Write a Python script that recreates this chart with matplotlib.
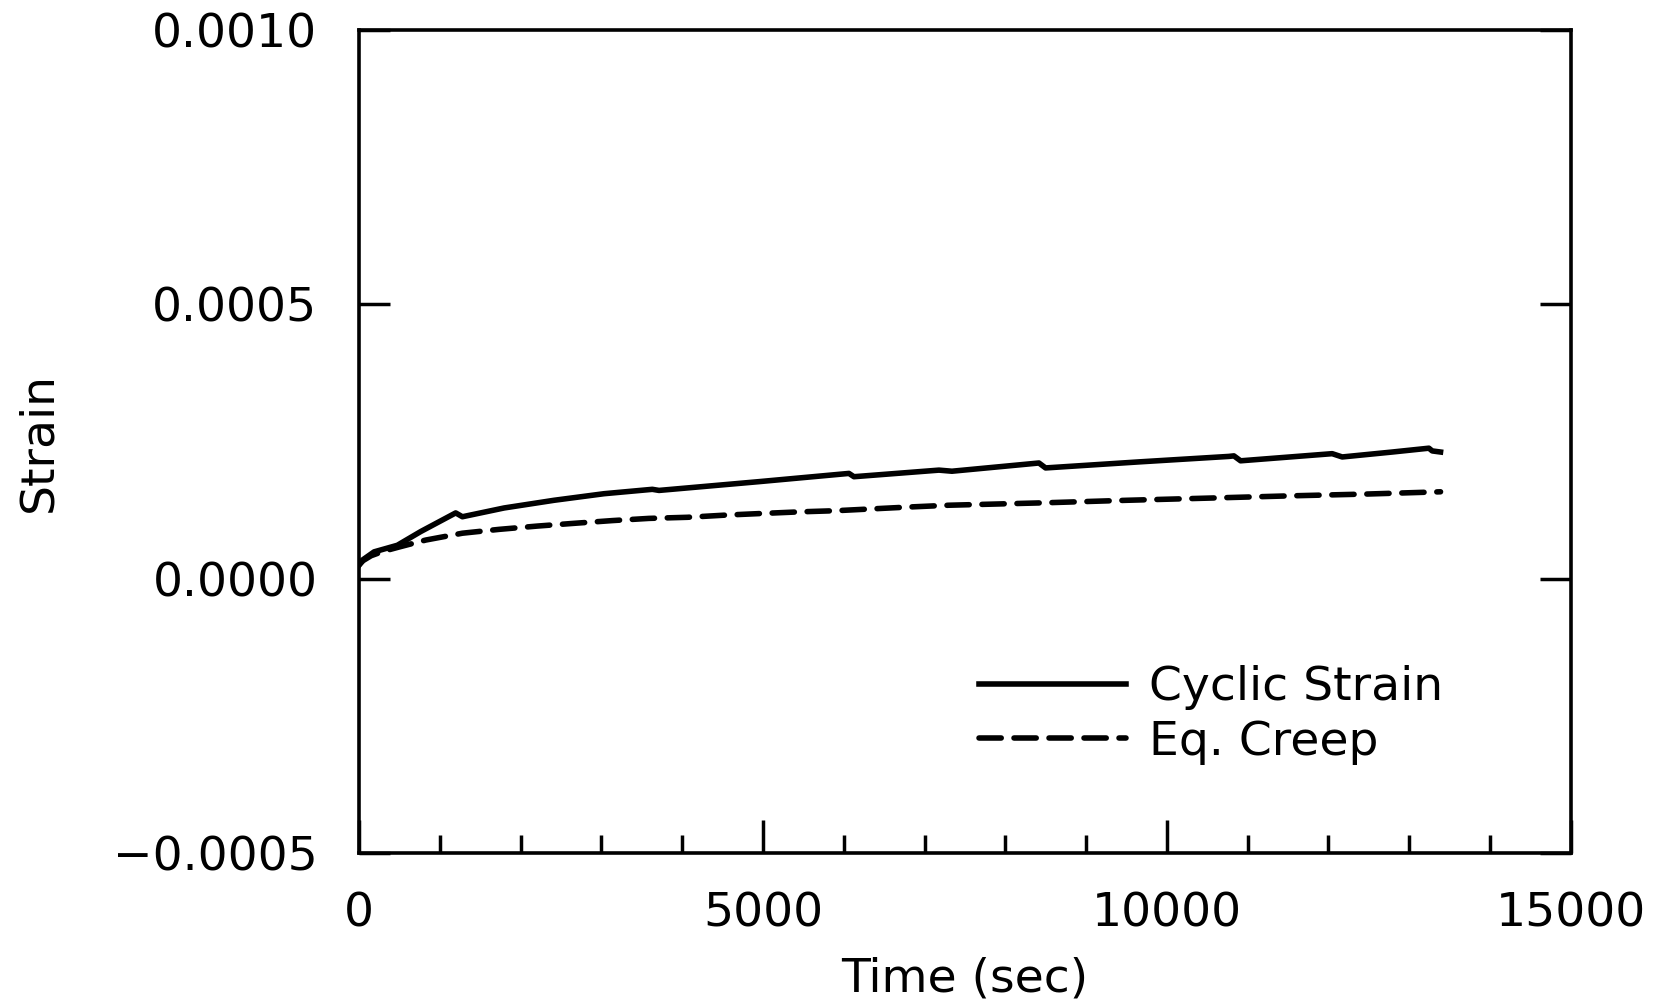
import matplotlib
matplotlib.use("Agg")
import matplotlib.pyplot as plt
from matplotlib.ticker import MultipleLocator

# ---- data ----
time_cyclic = [0, 41, 186, 474, 763, 1196, 1279, 1795, 2413, 3032, 3630, 3713,
               4950, 6064, 6126, 7178, 7339, 8416, 8498, 9653, 10767, 10829,
               10912, 12046, 12170, 12789, 13243, 13284, 13387]
strain_cyclic = [2.5e-5, 3.4e-5, 4.9e-5, 6.1e-5, 8.6e-5, 1.20e-4, 1.13e-4,
                 1.29e-4, 1.43e-4, 1.55e-4, 1.63e-4, 1.61e-4, 1.77e-4, 1.92e-4,
                 1.86e-4, 1.98e-4, 1.96e-4, 2.11e-4, 2.02e-4, 2.13e-4, 2.23e-4,
                 2.24e-4, 2.15e-4, 2.28e-4, 2.22e-4, 2.31e-4, 2.38e-4, 2.33e-4,
                 2.31e-4]

time_eq = [0, 50, 150, 300, 500, 825, 1279, 1733, 2207, 2661, 3135, 3589, 4063,
           4538, 4991, 5466, 5899, 6844, 7302, 8500, 9500, 10520, 11500, 12500,
           13387]
strain_eq = [2.5e-5, 3.3e-5, 4.2e-5, 5.0e-5, 5.8e-5, 7.05e-5, 8.3e-5, 9.0e-5,
             9.6e-5, 1.01e-4, 1.06e-4, 1.10e-4, 1.12e-4, 1.16e-4, 1.19e-4,
             1.22e-4, 1.24e-4, 1.31e-4, 1.34e-4, 1.385e-4, 1.43e-4, 1.47e-4,
             1.51e-4, 1.545e-4, 1.585e-4]

x_ticks = [0, 5000, 10000, 15000]
x_tick_labels = ["0", "5000", "10000", "15000"]
y_ticks = [-0.0005, 0.0, 0.0005, 0.0010]
y_tick_labels = ["\u22120.0005", "0.0000", "0.0005", "0.0010"]

plt.rcParams['font.family'] = ['DejaVu Sans']
FS = 34

fig = plt.figure(figsize=(16.57, 10.08), dpi=100)
ax = fig.add_axes([0.2167, 0.1538, 0.948 - 0.2167, 0.970 - 0.1538])

ax.plot(time_cyclic, strain_cyclic, color='black', lw=4.0,
        solid_joinstyle='round', label='Cyclic Strain')
ax.plot(time_eq, strain_eq, color='black', lw=4.0, dashes=(4.0, 2.3),
        dash_capstyle='round', label='Eq. Creep')

ax.set_xlim(0, 15000)
ax.set_ylim(-0.0005, 0.0010)
ax.set_xticks(x_ticks)
ax.set_xticklabels(x_tick_labels)
ax.set_yticks(y_ticks)
ax.set_yticklabels(y_tick_labels)
ax.xaxis.set_minor_locator(MultipleLocator(1000))

ax.tick_params(axis='x', which='major', direction='in', length=24, width=2.5,
               labelsize=FS, pad=28, top=False)
ax.tick_params(axis='x', which='minor', direction='in', length=13, width=2.5,
               top=False)
ax.tick_params(axis='y', which='major', direction='in', length=22, width=2.5,
               labelsize=FS, pad=30, right=True)
ax.tick_params(axis='y', which='minor', left=False, right=False)

for s in ax.spines.values():
    s.set_linewidth(2.6)

ax.set_xlabel('Time (sec)', fontsize=FS, labelpad=14)
ax.set_ylabel('Strain', fontsize=FS)
ax.yaxis.set_label_coords(-0.246, 0.5)

ax.legend(loc='upper left', bbox_to_anchor=(0.512, 0.228), frameon=False,
          fontsize=FS, handlelength=3.1, handletextpad=0.5,
          labelspacing=0.2, borderpad=0, borderaxespad=0)

fig.savefig('out.png', dpi=100)
